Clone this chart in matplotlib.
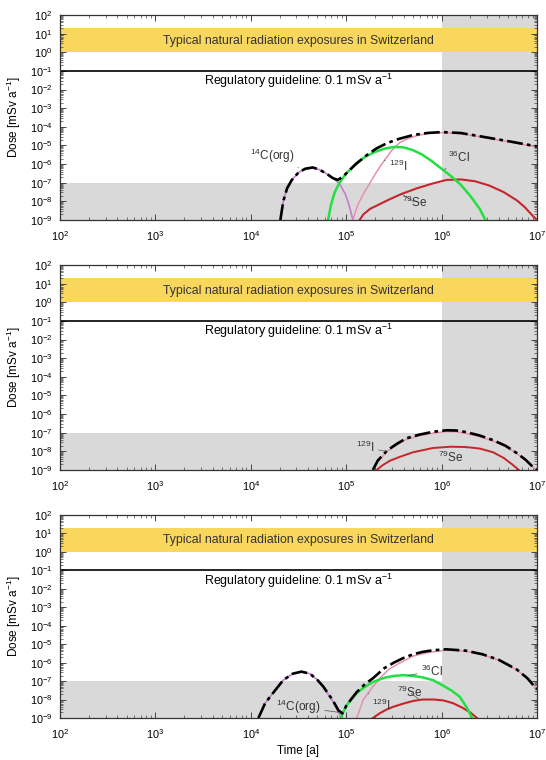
import numpy as np
import matplotlib
matplotlib.use("Agg")
import matplotlib.pyplot as plt
from matplotlib.ticker import LogLocator, NullFormatter

plt.rcParams['font.family'] = ['Liberation Sans', 'DejaVu Sans']
plt.rcParams['mathtext.fontset'] = 'custom'
plt.rcParams['mathtext.rm'] = 'Liberation Sans'
plt.rcParams['mathtext.it'] = 'Liberation Sans:italic'

# --- data: log10(time [a]) and log10(dose [mSv/a]) ---
# top panel
c14_t1 = [4.31, 4.34, 4.38, 4.43, 4.5, 4.57, 4.65, 4.72, 4.79, 4.86, 4.93, 4.99, 5.03, 5.07]
c14_d1 = [-9.0, -8.0, -7.3, -6.85, -6.45, -6.25, -6.18, -6.3, -6.5, -6.75, -7.05, -7.6, -8.2, -9.0]
cl_t1 = [4.81, 4.84, 4.88, 4.93, 5.0, 5.1, 5.2, 5.3, 5.4, 5.5, 5.6, 5.7, 5.8, 5.9, 6.0, 6.1, 6.2, 6.3, 6.4, 6.47]
cl_d1 = [-9.0, -8.2, -7.5, -7.0, -6.5, -6.0, -5.6, -5.35, -5.17, -5.08, -5.1, -5.25, -5.5, -5.85, -6.25, -6.65, -7.1, -7.7, -8.4, -9.1]
i_t1 = [5.07, 5.12, 5.18, 5.25, 5.32, 5.4, 5.48, 5.56, 5.65, 5.75, 5.85, 6.0, 6.2, 6.43, 6.7, 7.0]
i_d1 = [-9.0, -8.2, -7.6, -7.0, -6.4, -5.8, -5.25, -4.85, -4.62, -4.46, -4.36, -4.31, -4.36, -4.56, -4.8, -5.08]
se_t1 = [5.14, 5.18, 5.25, 5.35, 5.45, 5.58, 5.74, 5.9, 6.05, 6.2, 6.35, 6.5, 6.65, 6.79, 6.87, 6.96, 7.0]
se_d1 = [-9.0, -8.7, -8.4, -8.15, -7.9, -7.6, -7.3, -7.05, -6.85, -6.82, -6.92, -7.15, -7.5, -7.95, -8.3, -8.8, -9.0]
tot_t1 = [4.31, 4.34, 4.38, 4.43, 4.5, 4.57, 4.65, 4.72, 4.79, 4.86, 4.91, 4.96, 5.0, 5.1, 5.22,
          5.32, 5.43, 5.55, 5.7, 5.85, 6.0, 6.2, 6.43, 6.7, 7.0]
tot_d1 = [-9.0, -8.0, -7.3, -6.85, -6.45, -6.25, -6.18, -6.3, -6.5, -6.75, -6.85, -6.7, -6.5, -6.0, -5.5,
          -5.15, -4.87, -4.65, -4.44, -4.33, -4.28, -4.33, -4.53, -4.77, -5.05]

# middle panel
i_t2 = [5.28, 5.33, 5.43, 5.53, 5.63, 5.77, 5.91, 6.05, 6.15, 6.26, 6.4, 6.54, 6.67, 6.79, 6.88, 6.96, 7.0]
i_d2 = [-9.0, -8.55, -8.0, -7.65, -7.36, -7.16, -7.02, -6.94, -6.95, -7.04, -7.21, -7.45, -7.73, -8.12, -8.47, -8.86, -9.0]
se_t2 = [5.32, 5.38, 5.46, 5.56, 5.7, 5.91, 6.1, 6.26, 6.4, 6.54, 6.65, 6.74, 6.81]
se_d2 = [-9.0, -8.75, -8.5, -8.3, -8.05, -7.82, -7.75, -7.77, -7.85, -8.05, -8.35, -8.7, -9.0]
tot_t2 = [5.28, 5.33, 5.43, 5.53, 5.63, 5.77, 5.91, 6.05, 6.15, 6.26, 6.4, 6.54, 6.67, 6.79, 6.88, 6.96, 7.0]
tot_d2 = [-9.0, -8.5, -7.95, -7.6, -7.3, -7.1, -6.95, -6.87, -6.88, -6.97, -7.15, -7.4, -7.7, -8.1, -8.45, -8.85, -9.0]

# bottom panel
c14_t3 = [4.08, 4.15, 4.24, 4.34, 4.44, 4.53, 4.62, 4.7, 4.76, 4.86, 4.95]
c14_d3 = [-9.0, -8.2, -7.6, -6.95, -6.6, -6.49, -6.6, -6.95, -7.3, -8.1, -9.0]
cl_t3 = [4.94, 5.0, 5.05, 5.11, 5.2, 5.28, 5.4, 5.5, 5.6, 5.7, 5.8, 5.91, 6.0, 6.1, 6.19, 6.26, 6.32]
cl_d3 = [-9.0, -8.35, -8.0, -7.65, -7.3, -7.05, -6.82, -6.72, -6.68, -6.72, -6.8, -6.95, -7.2, -7.5, -7.85, -8.4, -9.0]
i_t3 = [5.11, 5.18, 5.28, 5.37, 5.45, 5.55, 5.7, 5.85, 6.05, 6.25, 6.43, 6.6, 6.79, 6.9, 7.0]
i_d3 = [-9.0, -8.0, -7.3, -6.75, -6.35, -6.05, -5.65, -5.46, -5.32, -5.38, -5.57, -5.87, -6.4, -6.87, -7.47]
se_t3 = [5.28, 5.35, 5.42, 5.49, 5.6, 5.7, 5.8, 5.92, 6.02, 6.12, 6.22, 6.3, 6.37]
se_d3 = [-9.0, -8.75, -8.55, -8.4, -8.22, -8.08, -8.0, -8.0, -8.05, -8.2, -8.45, -8.7, -9.0]
tot_t3 = [4.08, 4.15, 4.24, 4.34, 4.44, 4.53, 4.62, 4.7, 4.76, 4.86, 4.92, 4.96, 5.0, 5.05, 5.11, 5.2,
          5.28, 5.4, 5.5, 5.6, 5.7, 5.8, 5.91, 6.05, 6.25, 6.43, 6.6, 6.79, 6.9, 7.0]
tot_d3 = [-9.0, -8.2, -7.6, -6.95, -6.6, -6.49, -6.6, -6.95, -7.3, -8.05, -8.6, -8.75, -8.35, -8.0, -7.6, -7.15,
          -6.85, -6.3, -6.0, -5.75, -5.55, -5.42, -5.33, -5.28, -5.35, -5.55, -5.85, -6.38, -6.85, -7.45]

# labels: (text, text x, text y, curve x, curve y) in log10 units
labels1 = [(r'$^{14}$C(org)', 4.22, -5.55, 4.5, -6.2),
           (r'$^{129}$I', 5.55, -6.1, 5.4, -5.8),
           (r'$^{36}$Cl', 6.18, -5.62, 6.03, -6.3),
           (r'$^{79}$Se', 5.72, -8.05, 5.58, -7.6)]
labels2 = [(r'$^{129}$I', 5.2, -7.8, 5.42, -8.0),
           (r'$^{79}$Se', 6.1, -8.35, 6.27, -7.8)]
labels3 = [(r'$^{14}$C(org)', 4.5, -8.4, 4.93, -8.7),
           (r'$^{129}$I', 5.37, -8.3, 5.23, -7.65),
           (r'$^{36}$Cl', 5.9, -6.45, 5.65, -6.7),
           (r'$^{79}$Se', 5.67, -7.62, 5.77, -8.02)]

band_text = 'Typical natural radiation exposures in Switzerland'
guide_text = r'Regulatory guideline: 0.1 mSv a$^{-1}$'

c_c14 = '#c27fca'
c_i = '#e68fb2'
c_cl = '#22e040'
c_se = '#c4262c'
c_gray = '#d9d9d9'
c_yellow = '#f9d65c'
tot_style = (0, (6, 1.6, 1.4, 1.6))


def p(v):
    return np.power(10.0, v)


def setup(ax, xlabel=False):
    ax.set_xscale('log')
    ax.set_yscale('log')
    ax.set_xlim(1e2, 1e7)
    ax.set_ylim(1e-9, 1e2)
    # grey zones
    ax.axvspan(1e6, 1e7, color=c_gray, lw=0, zorder=0)
    ax.axhspan(1e-9, 1e-7, color=c_gray, lw=0, zorder=0)
    # natural exposure band and guideline
    ax.axhspan(1.0, 20.0, color=c_yellow, lw=0, zorder=1)
    ax.text(10**4.5, 10**0.62, band_text, ha='center', va='center', fontsize=8.8, color='#333333', zorder=2)
    ax.axhline(0.1, color='black', lw=1.2, zorder=2)
    ax.text(10**4.5, 10**-1.55, guide_text, ha='center', va='center', fontsize=9, zorder=2)

    ax.xaxis.set_major_locator(LogLocator(base=10, numticks=20))
    ax.xaxis.set_minor_locator(LogLocator(base=10, subs=np.arange(2, 10), numticks=20))
    ax.yaxis.set_major_locator(LogLocator(base=10, numticks=20))
    ax.yaxis.set_minor_locator(LogLocator(base=10, subs=np.arange(2, 10), numticks=20))
    ax.xaxis.set_minor_formatter(NullFormatter())
    ax.yaxis.set_minor_formatter(NullFormatter())
    ax.tick_params(which='both', direction='in', top=True, right=True, labelsize=7.8, color='#444444')
    ax.tick_params(axis='x', which='major', pad=6.5)
    ax.tick_params(axis='y', which='major', pad=5.5)
    ax.tick_params(which='major', length=4, width=0.7)
    ax.tick_params(which='minor', length=2.5, width=0.5)
    for s in ax.spines.values():
        s.set_linewidth(0.9)
        s.set_color('#333333')
        s.set_zorder(5)
    ax.set_ylabel(r'Dose [mSv a$^{-1}$]', fontsize=8.5)
    ax.yaxis.set_label_coords(-0.077, 0.5)
    if xlabel:
        ax.set_xlabel('Time [a]', fontsize=8.5, labelpad=3)


def add_labels(ax, labels):
    for txt, tx, ty, cx, cy in labels:
        ax.annotate(txt, xy=(p(cx), p(cy)), xytext=(p(tx), p(ty)), ha='center', va='center',
                    fontsize=8.5, color='#333333', zorder=6,
                    arrowprops=dict(arrowstyle='-', color='#666666', lw=0.6, shrinkA=1, shrinkB=0))


fig = plt.figure(figsize=(5.46, 7.60), dpi=100)
ax1 = fig.add_axes([0.1099, 0.7105, 0.8736, 0.2697])
ax2 = fig.add_axes([0.1099, 0.3816, 0.8736, 0.2697])
ax3 = fig.add_axes([0.1099, 0.0553, 0.8736, 0.2671])

setup(ax1)
ax1.plot(p(c14_t1), p(c14_d1), color=c_c14, lw=1.2, zorder=3)
ax1.plot(p(se_t1), p(se_d1), color=c_se, lw=1.5, zorder=3)
ax1.plot(p(i_t1), p(i_d1), color=c_i, lw=1.1, zorder=3)
ax1.plot(p(cl_t1), p(cl_d1), color=c_cl, lw=1.8, zorder=3)
ax1.plot(p(tot_t1), p(tot_d1), color='black', lw=1.9, ls=tot_style, zorder=4)
add_labels(ax1, labels1)

setup(ax2)
ax2.plot(p(se_t2), p(se_d2), color=c_se, lw=1.4, zorder=3)
ax2.plot(p(i_t2), p(i_d2), color=c_i, lw=1.1, zorder=3)
ax2.plot(p(tot_t2), p(tot_d2), color='black', lw=1.9, ls=tot_style, zorder=4)
add_labels(ax2, labels2)

setup(ax3, xlabel=True)
ax3.plot(p(c14_t3), p(c14_d3), color=c_c14, lw=1.2, zorder=3)
ax3.plot(p(se_t3), p(se_d3), color=c_se, lw=1.5, zorder=3)
ax3.plot(p(i_t3), p(i_d3), color=c_i, lw=1.1, zorder=3)
ax3.plot(p(cl_t3), p(cl_d3), color=c_cl, lw=1.8, zorder=3)
ax3.plot(p(tot_t3), p(tot_d3), color='black', lw=1.9, ls=tot_style, zorder=4)
add_labels(ax3, labels3)

fig.savefig('out.png', dpi=100)
